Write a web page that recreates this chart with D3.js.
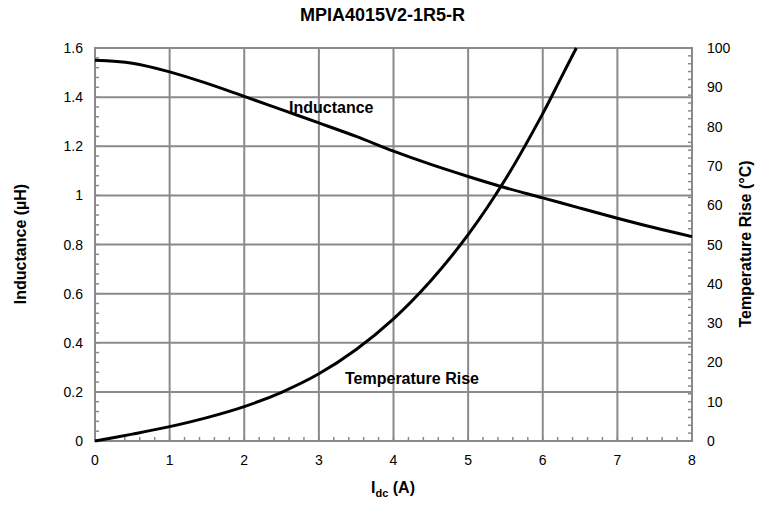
<!DOCTYPE html>
<html><head><meta charset="utf-8">
<script src="https://cdn.jsdelivr.net/npm/d3@7"></script>
<style>body{margin:0;background:#fff;} text{font-family:"Liberation Sans",Arial,sans-serif;}</style>
</head><body>
<svg id="chart" width="765" height="506"></svg>
<script>
const title = "MPIA4015V2-1R5-R";
const xTicks = [0,1,2,3,4,5,6,7,8];
const yLeftTicks = [0,0.2,0.4,0.6,0.8,1,1.2,1.4,1.6];
const yLeftLabels = ["0","0.2","0.4","0.6","0.8","1","1.2","1.4","1.6"];
const yRightTicks = [0,10,20,30,40,50,60,70,80,90,100];
const indI = [0,0.5,1,1.5,2,2.5,3,3.5,4,4.5,5,5.5,6,6.5,7,7.5,8];
const indL = [1.55,1.538,1.503,1.456,1.403,1.349,1.295,1.24,1.18,1.126,1.077,1.031,0.99,0.948,0.907,0.868,0.832];
const tmpI = [0,0.5,1,1.5,2,2.5,3,3.5,4,4.5,5,5.5,6,6.25,6.45];
const tmpT = [0,1.75,3.65,5.95,8.75,12.4,17.1,23.3,31.1,40.8,52.5,66.6,83.3,92.6,100];

const svg = d3.select("#chart");
const m = {l:95, r:692, t:48, b:441};
const x = d3.scaleLinear().domain([0,8]).range([m.l,m.r]);
const yL = d3.scaleLinear().domain([0,1.6]).range([m.b,m.t]);
const yR = d3.scaleLinear().domain([0,100]).range([m.b,m.t]);
const grid = "#8a8a8a";

const g = svg.append("g");
g.selectAll(".vx").data(xTicks).join("line")
  .attr("x1",d=>x(d)).attr("x2",d=>x(d)).attr("y1",m.t).attr("y2",m.b)
  .attr("stroke",grid).attr("stroke-width",2);
g.selectAll(".hy").data(yLeftTicks).join("line")
  .attr("y1",d=>yL(d)).attr("y2",d=>yL(d)).attr("x1",m.l).attr("x2",m.r)
  .attr("stroke",grid).attr("stroke-width",2);

const minX = d3.range(0,8.001,0.2);
g.selectAll(".mx").data(minX).join("line")
  .attr("x1",d=>x(d)).attr("x2",d=>x(d)).attr("y1",m.b).attr("y2",m.b-4)
  .attr("stroke",grid).attr("stroke-width",1.5);
const minL = d3.range(0,1.6001,0.04);
g.selectAll(".ml").data(minL).join("line")
  .attr("y1",d=>yL(d)).attr("y2",d=>yL(d)).attr("x1",m.l).attr("x2",m.l+4)
  .attr("stroke",grid).attr("stroke-width",1.5);
const minR = d3.range(0,100.001,2);
g.selectAll(".mr").data(minR).join("line")
  .attr("y1",d=>yR(d)).attr("y2",d=>yR(d)).attr("x1",m.r).attr("x2",m.r-4)
  .attr("stroke",grid).attr("stroke-width",1.5);

g.append("rect").attr("x",m.l).attr("y",m.t).attr("width",m.r-m.l).attr("height",m.b-m.t)
  .attr("fill","none").attr("stroke",grid).attr("stroke-width",2);

const lineL = d3.line().x(d=>x(d[0])).y(d=>yL(d[1])).curve(d3.curveCatmullRom.alpha(0.5));
const lineT = d3.line().x(d=>x(d[0])).y(d=>yR(d[1])).curve(d3.curveCatmullRom.alpha(0.5));
svg.append("path").datum(indI.map((v,i)=>[v,indL[i]])).attr("d",lineL)
  .attr("fill","none").attr("stroke","#000").attr("stroke-width",3);
svg.append("path").datum(tmpI.map((v,i)=>[v,tmpT[i]])).attr("d",lineT)
  .attr("fill","none").attr("stroke","#000").attr("stroke-width",3);

svg.selectAll(".xl").data(xTicks).join("text")
  .attr("x",d=>x(d)).attr("y",465).attr("text-anchor","middle")
  .attr("font-size",14).text(d=>d);
svg.selectAll(".yl").data(yLeftTicks).join("text")
  .attr("x",83).attr("y",d=>yL(d)+5).attr("text-anchor","end")
  .attr("font-size",14).text((d,i)=>yLeftLabels[i]);
svg.selectAll(".yr").data(yRightTicks).join("text")
  .attr("x",707).attr("y",d=>yR(d)+5).attr("text-anchor","start")
  .attr("font-size",14).text(d=>d);

svg.append("text").attr("x",382.5).attr("y",21).attr("text-anchor","middle")
  .attr("font-size",18).attr("font-weight","bold").text(title);
const xt = svg.append("text").attr("x",393).attr("y",493).attr("text-anchor","middle")
  .attr("font-size",16).attr("font-weight","bold");
xt.append("tspan").text("I");
xt.append("tspan").attr("font-size",11).attr("dy",4).text("dc");
xt.append("tspan").attr("dy",-4).text(" (A)");
svg.append("text").attr("transform","translate(26,244) rotate(-90)").attr("text-anchor","middle")
  .attr("font-size",16).attr("font-weight","bold").text("Inductance (µH)");
svg.append("text").attr("transform","translate(751,244) rotate(-90)").attr("text-anchor","middle")
  .attr("font-size",16).attr("font-weight","bold").text("Temperature Rise (°C)");

svg.append("text").attr("x",289).attr("y",113).attr("font-size",16).attr("font-weight","bold").text("Inductance");
svg.append("text").attr("x",345).attr("y",384).attr("font-size",16).attr("font-weight","bold").text("Temperature Rise");
</script>
</body></html>
